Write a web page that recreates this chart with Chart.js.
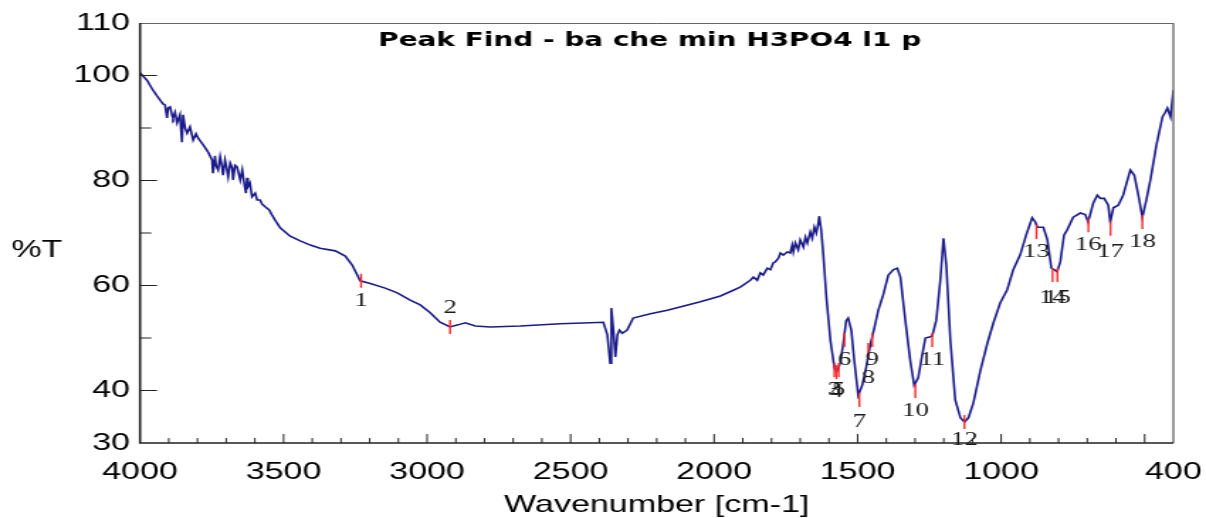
<!DOCTYPE html>
<html>
<head>
<meta charset="utf-8">
<script src="https://cdn.jsdelivr.net/npm/chart.js@4.4.0/dist/chart.umd.min.js"></script>
<style>
html, body { margin: 0; padding: 0; background: #fff; overflow: hidden; }
/* the original plot is stretched sideways, so the chart is drawn narrow and widened */
#wrap { position: absolute; left: 0; top: 0; width: 850px; height: 518px; transform: scaleX(1.41882); transform-origin: 0 0; }
</style>
</head>
<body>
<div id="wrap"><canvas id="ftirChart"></canvas></div>
<script>
"use strict";

var wavenumbers = [
  4000,3976,3955,3941,3930,3920,3913,3906,3902,3895,
  3888,3885,3878,3871,3861,3854,3850,3843,3836,3826,
  3815,3805,3798,3780,3763,3749,3746,3739,3735,3728,
  3721,3714,3711,3704,3700,3693,3686,3679,3676,3669,
  3662,3651,3644,3638,3631,3627,3624,3617,3610,3599,
  3592,3582,3575,3564,3550,3540,3530,
  3512,3477,3442,3407,3373,3320,3285,3261,3233,3198,
  3146,3104,3059,3024,2989,2955,2920,2892,2867,2832,
  2780,2676,2536,2432,2386,2372,2362,2358,2351,2344,
  2337,2330,2320,2303,2282,2222,2163,2048,1978,1933,
  1909,1874,1863,1850,1839,1829,1815,1804,1794,1787,
  1776,1769,1759,1745,1735,1728,1724,1717,1707,1700,
  1689,1682,1675,1665,1658,1651,1644,1637,1634,1627,
  1620,1609,
  1595,1581,1574,1567,1560,1550,1540,1533,
  1522,1512,1498,1484,1470,1456,1442,1428,1411,1393,
  1376,1362,1351,1334,1317,1303,1289,1275,1264,1250,
  1240,1226,1212,1201,1191,1177,1160,1142,1128,1114,
  1097,1072,1048,1027,1003,979,958,934,913,892,
  881,874,853,839,825,815,805,794,781,770,
  749,724,707,697,679,665,654,641,627,620,
  609,592,575,550,536,522,508,494,480,459,
  438,428,421,410,400
];
var transmittance = [
  100.5,99.1,97.2,96.1,95.3,94.6,94.4,91.9,93.8,94.0,
  92.3,91.9,93.0,91.0,92.5,87.3,92.5,90.0,89.0,90.2,
  87.7,88.9,88.1,86.8,85.4,83.9,81.4,84.7,82.8,82.0,
  84.5,82.4,81.0,83.9,82.9,80.7,83.3,82.4,80.1,82.9,
  82.6,80.1,82.0,79.7,77.6,80.5,78.8,79.5,76.9,77.6,
  76.3,76.3,75.5,75.0,74.4,73.4,72.5,
  71.0,69.4,68.5,67.7,67.1,66.6,65.6,63.9,60.9,60.4,
  59.5,58.6,57.2,56.3,54.8,53.0,52.1,52.5,52.9,52.3,
  52.1,52.3,52.7,52.9,53.0,50.6,45.2,55.7,51.5,46.4,
  50.6,51.5,50.9,51.5,53.8,54.6,55.3,56.9,58.0,59.1,
  59.7,61.0,61.6,61.0,62.4,62.0,63.3,63.0,64.3,64.5,
  65.2,66.2,65.8,66.4,66.2,67.7,66.4,68.1,66.8,68.7,
  67.3,69.2,68.1,70.2,69.0,71.1,70.0,71.9,73.2,70.6,
  66.2,57.8,
  49.6,44.3,43.5,44.3,45.4,49.0,53.3,53.8,
  51.5,45.8,39.1,41.0,44.5,48.7,51.9,55.3,58.2,62.0,
  63.0,63.3,61.6,53.4,45.8,41.0,42.4,46.8,50.0,50.2,
  50.4,53.4,61.0,69.0,63.8,49.6,38.2,34.8,34.0,34.8,
  37.6,43.9,49.0,52.9,56.7,59.2,63.0,65.8,69.6,72.9,
  72.1,71.1,71.1,68.7,63.3,63.0,62.6,64.5,69.6,70.6,
  73.0,73.8,73.5,72.1,75.7,77.2,76.6,76.6,75.3,72.1,
  74.8,75.3,77.2,82.0,81.0,77.2,73.0,76.3,80.1,86.8,
  92.1,93.0,93.8,92.1,97.2
];

var peakNumbers = [1,2,3,4,5,6,7,8,9,10,11,12,13,14,15,16,17,18];
var peakWavenumbers = [3230,2920,1581,1574,1566,1546,1494,1463,1449,1299,1240,1128,877,821,804,696,619,508];
var peakValues = [60.9,52.1,43.9,43.5,43.9,49.6,38.2,47.7,49.6,39.9,49.6,34.0,70.2,62.0,62.0,71.5,70.8,72.1];

var xTickValues = [4000,3900,3800,3700,3600,3500,3400,3300,3200,3100,3000,2900,2800,2700,2600,2500,2400,2300,2200,2100,2000,
  1900,1800,1700,1600,1500,1400,1300,1200,1100,1000,900,800,700,600,500,400];
var xTickLabels = [4000,3500,3000,2500,2000,1500,1000,400];
var yTickValues = [30,40,50,60,70,80,90,100,110];
var yTickLabels = [30,40,60,80,100,110];

var TITLE = 'Peak Find - ba che min H3PO4 l1 p';
var LINE_COLOR = '#1b1b8a';
var PEAK_COLOR = '#ff2a2a';

// label offsets below (or above) each peak mark, in px
var LABEL_DY = { 2: -19, 7: 22, 8: 28, 12: 18, 14: 23, 15: 23, 17: 23 };

var decorPlugin = {
  id: 'ftirDecor',
  afterDatasetsDraw: function (chart) {
    var ctx = chart.ctx, xs = chart.scales.x, ys = chart.scales.y;
    ctx.save();
    ctx.font = '19px "Liberation Serif"';
    ctx.textAlign = 'center';
    ctx.textBaseline = 'middle';
    for (let i = 0; i < peakNumbers.length; i++) {
      let px = xs.getPixelForValue(peakWavenumbers[i]);
      let py = ys.getPixelForValue(peakValues[i]);
      ctx.strokeStyle = PEAK_COLOR;
      ctx.lineWidth = 1.4;
      ctx.beginPath();
      ctx.moveTo(px, py - 7);
      ctx.lineTo(px, py + 7);
      ctx.stroke();
      let dy = LABEL_DY[peakNumbers[i]] !== undefined ? LABEL_DY[peakNumbers[i]] : 20;
      ctx.fillStyle = '#1a1a1a';
      ctx.fillText(String(peakNumbers[i]), px, py + dy);
    }
    ctx.restore();
  },
  afterDraw: function (chart) {
    var ctx = chart.ctx, a = chart.chartArea, xs = chart.scales.x, ys = chart.scales.y;
    ctx.save();
    // frame
    ctx.strokeStyle = '#666';
    ctx.lineWidth = 1;
    ctx.beginPath();
    ctx.moveTo(a.left, a.top + 0.5);
    ctx.lineTo(a.right, a.top + 0.5);
    ctx.stroke();
    ctx.lineWidth = 1.3;
    ctx.beginPath();
    ctx.moveTo(a.right, a.top);
    ctx.lineTo(a.right, a.bottom);
    ctx.stroke();
    ctx.strokeStyle = '#222';
    ctx.lineWidth = 1.6;
    ctx.beginPath();
    ctx.moveTo(a.left, a.top);
    ctx.lineTo(a.left, a.bottom);
    ctx.lineTo(a.right, a.bottom);
    ctx.stroke();
    // tick marks drawn inwards
    ctx.lineWidth = 1;
    ctx.strokeStyle = '#222';
    xTickValues.forEach(function (v) {
      if (v === 4000 || v === 400) return;
      let px = xs.getPixelForValue(v);
      let len = v % 500 === 0 ? 9 : 5;
      ctx.beginPath();
      ctx.moveTo(px, a.bottom);
      ctx.lineTo(px, a.bottom - len);
      ctx.stroke();
    });
    yTickValues.forEach(function (v) {
      if (v === 30 || v === 110) return;
      let py = ys.getPixelForValue(v);
      let len = yTickLabels.indexOf(v) >= 0 ? 12 : 8;
      ctx.beginPath();
      ctx.moveTo(a.left, py);
      ctx.lineTo(a.left + len, py);
      ctx.stroke();
    });
    // title and y label
    ctx.fillStyle = '#000';
    ctx.textBaseline = 'alphabetic';
    ctx.textAlign = 'center';
    ctx.font = 'bold 19.7px "DejaVu Sans"';
    ctx.fillText(TITLE, (a.left + a.right) / 2 - 5, 46);
    ctx.font = '24px "Liberation Sans"';
    ctx.fillText('%T', 26, 257);
    ctx.restore();
  }
};

var load_ftir_chart = function () {
  var el = document.getElementById('ftirChart').getContext('2d');
  var points = wavenumbers.map(function (w, i) {
    return { x: w, y: transmittance[i] };
  });
  var tickFont = { family: 'Liberation Sans', size: 24 };

  return new Chart(el, {
    type: 'line',
    data: {
      datasets: [{
        data: points,
        borderColor: LINE_COLOR,
        borderWidth: 1.6,
        pointRadius: 0,
        tension: 0,
        fill: false
      }]
    },
    options: {
      responsive: true,
      maintainAspectRatio: false,
      animation: false,
      layout: { padding: { top: 23, right: 23, bottom: 0, left: 0 } },
      plugins: {
        legend: { display: false },
        tooltip: { enabled: false }
      },
      scales: {
        x: {
          type: 'linear',
          reverse: true,
          min: 400,
          max: 4000,
          grid: { display: false, drawTicks: false },
          border: { display: false },
          afterBuildTicks: function (scale) {
            scale.ticks = xTickValues.map(function (v) { return { value: v }; });
          },
          afterFit: function (scale) {
            scale.height = 75;
            scale.paddingLeft = 0;
            scale.paddingRight = 0;
          },
          ticks: {
            autoSkip: false,
            maxRotation: 0,
            padding: 15,
            color: '#000',
            font: tickFont,
            callback: function (v) { return xTickLabels.indexOf(v) >= 0 ? String(v) : ''; }
          },
          title: {
            display: true,
            text: 'Wavenumber [cm-1]',
            color: '#000',
            font: { family: 'Liberation Sans', size: 24, lineHeight: 1 },
            padding: { top: 0, bottom: 1 }
          }
        },
        y: {
          min: 30,
          max: 110,
          grid: { display: false, drawTicks: false },
          border: { display: false },
          afterBuildTicks: function (scale) {
            scale.ticks = yTickValues.map(function (v) { return { value: v }; });
          },
          afterFit: function (scale) {
            scale.width = 98.7;
            scale.paddingTop = 0;
            scale.paddingBottom = 0;
          },
          ticks: {
            autoSkip: false,
            padding: 7,
            color: '#000',
            font: tickFont,
            callback: function (v) { return yTickLabels.indexOf(v) >= 0 ? String(v) : ''; }
          }
        }
      }
    },
    plugins: [decorPlugin]
  });
};

load_ftir_chart();
</script>
</body>
</html>
